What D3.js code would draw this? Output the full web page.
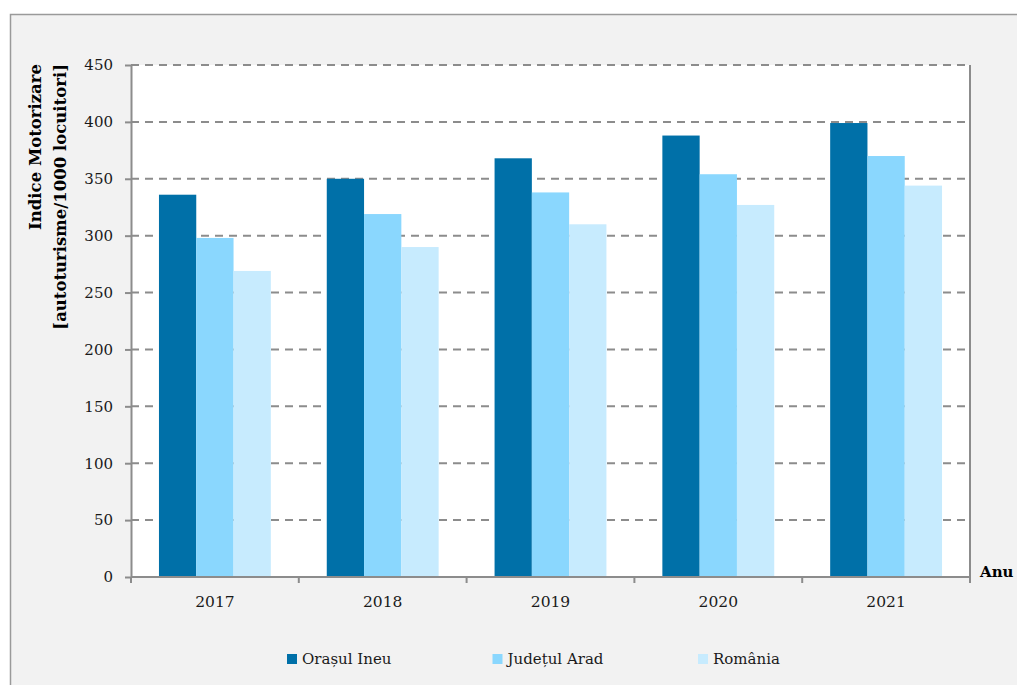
<!DOCTYPE html>
<html>
<head>
<meta charset="utf-8">
<script src="https://cdn.jsdelivr.net/npm/d3@7"></script>
<style>
  html, body { margin: 0; padding: 0; background: #ffffff; }
  svg { display: block; }
  text { font-family: "DejaVu Serif", "Liberation Serif", serif; }
</style>
</head>
<body>
<script>
// Motorisation index (cars per 1000 inhabitants), 2017–2021
const years = ["2017", "2018", "2019", "2020", "2021"];
const seriesNames = ["Orașul Ineu", "Județul Arad", "România"];
const orasulIneu = [336, 350, 368, 388, 399];
const judetulArad = [298, 319, 338, 354, 370];
const romania = [269, 290, 310, 327, 344];
const yTicks = [0, 50, 100, 150, 200, 250, 300, 350, 400, 450];
const seriesColors = ["#0070a8", "#8ad7fe", "#c7ebfe"];

const seriesValues = [orasulIneu, judetulArad, romania];

const W = 1017, H = 685;
const plot = { left: 131, right: 970, top: 65, bottom: 577 };
const axisGrey = "#8c8c8c";

const svg = d3.select("body").append("svg")
  .attr("width", W).attr("height", H);

// chart frame
svg.append("rect")
  .attr("x", 10.5).attr("y", 14.5)
  .attr("width", W + 20).attr("height", H + 20)
  .attr("fill", "#f2f2f2")
  .attr("stroke", "#9a9a9a").attr("stroke-width", 1.5);

// plot background
svg.append("rect")
  .attr("x", plot.left).attr("y", plot.top)
  .attr("width", plot.right - plot.left).attr("height", plot.bottom - plot.top)
  .attr("fill", "#ffffff");

const x = d3.scaleBand().domain(years)
  .range([plot.left, plot.right]).paddingInner(0).paddingOuter(0);
const inner = d3.scaleBand().domain(seriesNames)
  .range([0, x.bandwidth()]).paddingInner(0).paddingOuter(0.75);
const y = d3.scaleLinear().domain([0, 450]).range([plot.bottom, plot.top]);

// dashed horizontal gridlines
svg.append("g").selectAll("line")
  .data(yTicks.filter(d => d > 0))
  .join("line")
  .attr("x1", plot.left).attr("x2", plot.right)
  .attr("y1", d => y(d)).attr("y2", d => y(d))
  .attr("stroke", axisGrey).attr("stroke-width", 2)
  .attr("stroke-dasharray", "8,6");

// bars
const groups = svg.append("g").selectAll("g")
  .data(years)
  .join("g")
  .attr("transform", d => `translate(${x(d)},0)`);

groups.selectAll("rect")
  .data((yr, i) => seriesNames.map((s, k) => ({ s, k, v: seriesValues[k][i] })))
  .join("rect")
  .attr("x", d => inner(d.s))
  .attr("width", inner.bandwidth())
  .attr("y", d => y(d.v))
  .attr("height", d => y(0) - y(d.v))
  .attr("fill", d => seriesColors[d.k]);

// right border of plot area
svg.append("line")
  .attr("x1", plot.right).attr("x2", plot.right)
  .attr("y1", plot.top).attr("y2", plot.bottom)
  .attr("stroke", axisGrey).attr("stroke-width", 2);

// y axis
const yAxis = svg.append("g")
  .attr("transform", `translate(${plot.left},0)`)
  .call(d3.axisLeft(y).tickValues(yTicks).tickSize(6).tickPadding(12).tickSizeOuter(0));
yAxis.select(".domain").attr("stroke", axisGrey).attr("stroke-width", 2);
yAxis.selectAll(".tick line").attr("stroke", axisGrey).attr("stroke-width", 2);
yAxis.selectAll(".tick text")
  .attr("fill", "#1a1a1a")
  .style("font-size", "15px");

// x axis: ticks on category boundaries
const xAxis = svg.append("g")
  .attr("transform", `translate(0,${plot.bottom})`);
xAxis.append("line")
  .attr("x1", plot.left).attr("x2", plot.right)
  .attr("stroke", axisGrey).attr("stroke-width", 2);
const bounds = years.map(d => x(d)).concat([x(years[years.length - 1]) + x.bandwidth()]);
xAxis.selectAll("line.tk")
  .data(bounds)
  .join("line").attr("class", "tk")
  .attr("x1", d => d).attr("x2", d => d)
  .attr("y1", 0).attr("y2", 6)
  .attr("stroke", axisGrey).attr("stroke-width", 2);
xAxis.selectAll("text.yr")
  .data(years)
  .join("text").attr("class", "yr")
  .attr("x", d => x(d) + x.bandwidth() / 2)
  .attr("y", 30)
  .attr("text-anchor", "middle")
  .attr("fill", "#1a1a1a")
  .style("font-size", "15.5px")
  .text(d => d);

// axis titles
svg.append("text")
  .attr("x", 980).attr("y", 577)
  .style("font-size", "15px").style("font-weight", "bold")
  .attr("fill", "#000")
  .text("Anu");

const yTitle = svg.append("g")
  .attr("transform", "translate(0,64) rotate(-90)");
yTitle.append("text")
  .attr("x", 0).attr("y", 41)
  .attr("text-anchor", "end")
  .style("font-size", "16.5px").style("font-weight", "bold")
  .text("Indice Motorizare");
yTitle.append("text")
  .attr("x", 0).attr("y", 66)
  .attr("text-anchor", "end")
  .style("font-size", "16.5px").style("font-weight", "bold")
  .text("[autoturisme/1000 locuitori]");

// legend
const legendX = d3.scalePoint().domain(seriesNames).range([287, 698]);
const legend = svg.append("g").selectAll("g")
  .data(seriesNames)
  .join("g")
  .attr("transform", d => `translate(${legendX(d)},654)`);
legend.append("rect")
  .attr("width", 10).attr("height", 10)
  .attr("fill", (d, i) => seriesColors[i]);
legend.append("text")
  .attr("x", 15).attr("y", 10)
  .attr("fill", "#1a1a1a")
  .style("font-size", "15px")
  .text(d => d);
</script>
</body>
</html>
